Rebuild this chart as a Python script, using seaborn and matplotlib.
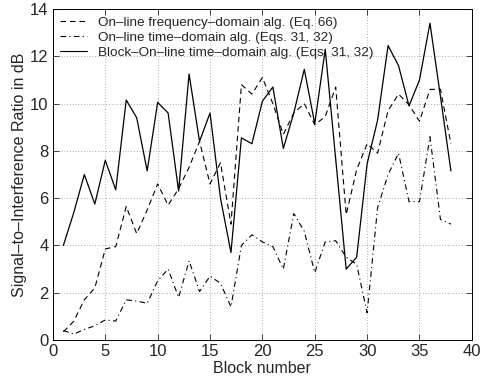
import pandas as pd
import matplotlib
matplotlib.use('Agg')
import matplotlib.pyplot as plt
import seaborn as sns

# Data
blocks = list(range(1, 39))

freq_domain = [0.35, 0.8, 1.7, 2.2, 3.85, 3.95, 5.65, 4.5, 5.5, 6.6,
               5.7, 6.4, 7.3, 8.4, 6.6, 7.5, 4.9, 10.8, 10.4, 11.1,
               10.0, 8.7, 9.6, 10.0, 9.1, 9.45, 10.7, 5.3, 7.2, 8.3,
               7.9, 9.7, 10.4, 9.95, 9.25, 10.6, 10.6, 8.3]

time_domain = [0.4, 0.25, 0.45, 0.6, 0.85, 0.8, 1.7, 1.65, 1.55, 2.5,
               3.0, 1.8, 3.35, 2.05, 2.7, 2.4, 1.4, 4.0, 4.45, 4.15,
               3.95, 3.0, 5.35, 4.6, 2.85, 4.15, 4.2, 3.5, 3.2, 1.15,
               5.6, 7.0, 7.9, 5.85, 5.85, 8.6, 5.1, 4.9]

block_online = [4.0, 5.4, 7.0, 5.75, 7.6, 6.35, 10.15, 9.4, 7.15, 10.05,
                9.6, 6.3, 11.25, 8.4, 9.6, 6.0, 3.7, 8.55, 8.3, 10.1,
                10.7, 8.1, 9.6, 11.45, 9.15, 12.3, 7.65, 3.0, 3.5, 7.45,
                9.3, 12.45, 11.6, 9.9, 11.0, 13.4, 10.3, 7.15]

labels = ['On–line frequency–domain alg. (Eq. 66)',
          'On–line time–domain alg. (Eqs. 31, 32)',
          'Block–On–line time–domain alg. (Eqs. 31, 32)']

xticks = list(range(0, 41, 5))
yticks = list(range(0, 15, 2))

df = pd.DataFrame({'block': blocks, 'freq': freq_domain,
                   'time': time_domain, 'blockonline': block_online})

sns.set_style('ticks')
plt.rcParams['font.family'] = ['Liberation Sans', 'DejaVu Sans']

fig = plt.figure(figsize=(4.81, 3.87), dpi=100)
ax = fig.add_axes([0.110, 0.1214, 0.871, 0.8554])

sns.lineplot(data=df, x='block', y='freq', ax=ax, color='black',
             linewidth=0.8, label=labels[0])
sns.lineplot(data=df, x='block', y='time', ax=ax, color='black',
             linewidth=0.8, label=labels[1])
sns.lineplot(data=df, x='block', y='blockonline', ax=ax, color='black',
             linewidth=0.9, label=labels[2])
ax.lines[0].set_dashes([5, 3.5])
ax.lines[1].set_dashes([5, 3, 1, 3])

ax.set_xlim(0, 40)
ax.set_ylim(0, 14)
ax.set_xticks(xticks)
ax.set_yticks(yticks)
ax.grid(True, linestyle=(0, (1, 3)), color='#666666', linewidth=0.5)
ax.tick_params(direction='in', top=True, right=True, labelsize=12,
               length=4, width=0.6, pad=3)
for s in ax.spines.values():
    s.set_linewidth(0.7)
    s.set_color('black')

ax.set_xlabel('Block number', fontsize=11.5, labelpad=1)
ax.set_ylabel('Signal–to–Interference Ratio in dB', fontsize=11.5, labelpad=2)

leg = ax.legend(loc='upper left', fontsize=9.7, frameon=True, fancybox=False,
                handlelength=2.0, handletextpad=0.8, borderpad=0.25,
                labelspacing=0.2, borderaxespad=0.3, framealpha=0)
leg.get_frame().set_edgecolor('black')
leg.get_frame().set_linewidth(0.7)
for h in leg.get_lines():
    h.set_linewidth(0.8)

fig.savefig('out.png', dpi=100)
